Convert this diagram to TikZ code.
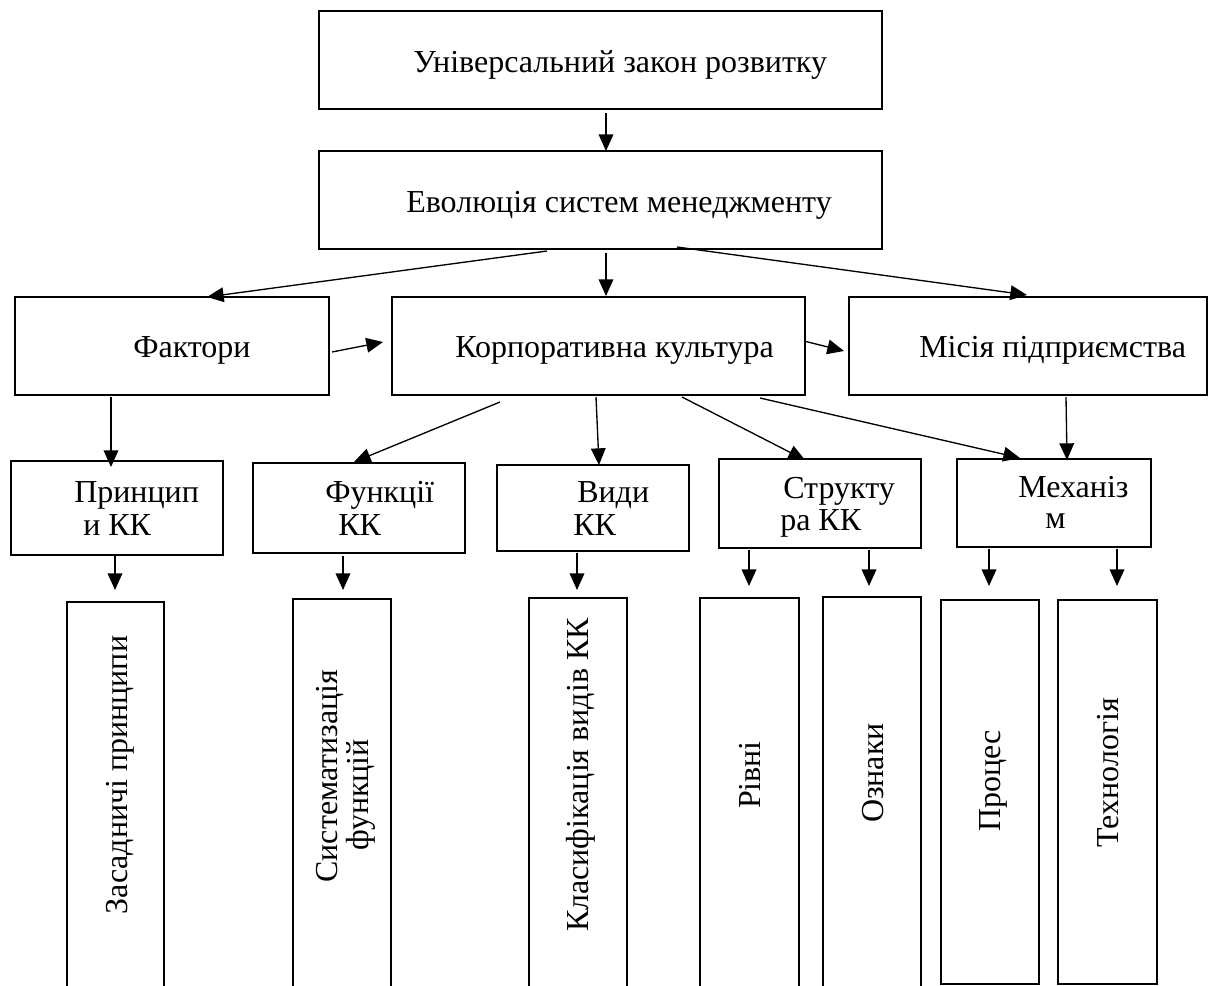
\documentclass[tikz,border=0pt]{standalone}
\usepackage{fontspec}
\setmainfont{Liberation Serif}
\usetikzlibrary{arrows.meta,calc,fit}
\tikzset{
  box/.style={draw=black, line width=0.8pt, inner sep=0pt, outer sep=0pt, rectangle},
  arr/.style={draw=black, line width=1pt, -{Triangle[length=12.5pt,width=11pt]}},
  lbl/.style={inner sep=0pt, anchor=base west, font=\fontsize{24}{25}\selectfont},
  vlbl/.style={inner sep=0pt, anchor=base, rotate=90, font=\fontsize{24}{25}\selectfont}
}
\begin{document}
\begin{tikzpicture}[x=0.75pt,y=-0.75pt]
\useasboundingbox (0,0) rectangle (1209,985);
% boxes
\node[box, fit={(319,11) (882,109)}] (top) {};
\node[box, fit={(319,151) (882,249)}] (evo) {};
\node[box, fit={(15,297) (329,395)}] (fak) {};
\node[box, fit={(392,297) (805,395)}] (kk) {};
\node[box, fit={(849,297) (1207,395)}] (mis) {};
\node[box, fit={(11,461) (223,555)}] (pr) {};
\node[box, fit={(253,463) (465,553)}] (fn) {};
\node[box, fit={(497,465) (689,551)}] (vy) {};
\node[box, fit={(719,459) (921,548)}] (st) {};
\node[box, fit={(957,459) (1151,547)}] (me) {};
\node[box, fit={(67,602) (164,1000)}] (zp) {};
\node[box, fit={(293,599) (391,1000)}] (sf) {};
\node[box, fit={(529,598) (627,1000)}] (kv) {};
\node[box, fit={(700,598) (799,1000)}] (ri) {};
\node[box, fit={(823,597) (921,1000)}] (oz) {};
\node[box, fit={(941,600) (1039,984)}] (pc) {};
\node[box, fit={(1058,600) (1157,984)}] (th) {};
% texts
\node[lbl] (ttop) at (413,72) {Універсальний закон розвитку};
\node[lbl] (tevo) at (406,212) {Еволюція систем менеджменту};
\node[lbl] (tfak) at (133,357) {Фактори};
\node[lbl] (tkk) at (455,357) {Корпоративна культура};
\node[lbl] (tmis) at (919,357) {Місія підприємства};
\node[lbl] (tpr1) at (74,502) {Принцип};
\node[lbl] (tpr2) at (83,535) {и КК};
\node[lbl] (tfn1) at (325,502) {Функції};
\node[lbl] (tfn2) at (338,535) {КК};
\node[lbl] (tvy1) at (577,502) {Види};
\node[lbl] (tvy2) at (573,535) {КК};
\node[lbl] (tst1) at (783,498) {Структу};
\node[lbl] (tst2) at (780,530) {ра КК};
\node[lbl] (tme1) at (1018,497) {Механіз};
\node[lbl] (tme2) at (1045,528) {м};
\node[vlbl] (tzp) at (127,775) {Засадничі принципи};
\node[vlbl] (tsf1) at (337,776) {Систематизація};
\node[vlbl] (tsf2) at (368,795) {функцій};
\node[vlbl] (tkv) at (588,775) {Класифікація видів КК};
\node[vlbl] (tri) at (760,775) {Рівні};
\node[vlbl] (toz) at (883,773) {Ознаки};
\node[vlbl] (tpc) at (1000,781) {Процес};
\node[vlbl] (tth) at (1118,773) {Технологія};
% connectors
\draw[arr] ($(top.south west)+(287,4)$) -- ($(evo.north west)+(287,0)$);
\draw[arr] ($(evo.south west)+(287,4)$) -- ($(kk.north west)+(214,-1)$);
\draw[arr] ($(evo.south west)+(228,2)$) -- ($(fak.north west)+(192,0)$);
\draw[arr] ($(evo.south west)+(358,-2)$) -- ($(mis.north west)+(178,-2)$);
\draw[arr] ($(fak.north east)+(3,55)$) -- ($(kk.north west)+(-9,45)$);
\draw[arr] ($(kk.north east)+(-1,44)$) -- ($(mis.north west)+(-5,54)$);
\draw[arr] ($(fak.south west)+(96,2)$) -- ($(pr.north west)+(100,6)$);
\draw[arr] ($(kk.south west)+(108,7)$) -- ($(fn.north west)+(101,-1)$);
\draw[arr] ($(kk.south west)+(204,2)$) -- ($(vy.north west)+(102,0)$);
\draw[arr] ($(kk.south west)+(290,2)$) -- ($(st.north west)+(86,1)$);
\draw[arr] ($(kk.south west)+(368,3)$) -- ($(me.north west)+(63,-1)$);
\draw[arr] ($(mis.south west)+(217,2)$) -- ($(me.north west)+(110,1)$);
\draw[arr] ($(pr.south west)+(104,1)$) -- ($(zp.north west)+(48,-12)$);
\draw[arr] ($(fn.south west)+(90,3)$) -- ($(sf.north west)+(50,-9)$);
\draw[arr] ($(vy.south west)+(80,2)$) -- ($(kv.north west)+(48,-8)$);
\draw[arr] ($(st.south west)+(30,2)$) -- ($(ri.north west)+(49,-12)$);
\draw[arr] ($(st.south west)+(150,2)$) -- ($(oz.north west)+(46,-11)$);
\draw[arr] ($(me.south west)+(32,2)$) -- ($(pc.north west)+(48,-14)$);
\draw[arr] ($(me.south west)+(160,2)$) -- ($(th.north west)+(59,-14)$);
\end{tikzpicture}
\end{document}
